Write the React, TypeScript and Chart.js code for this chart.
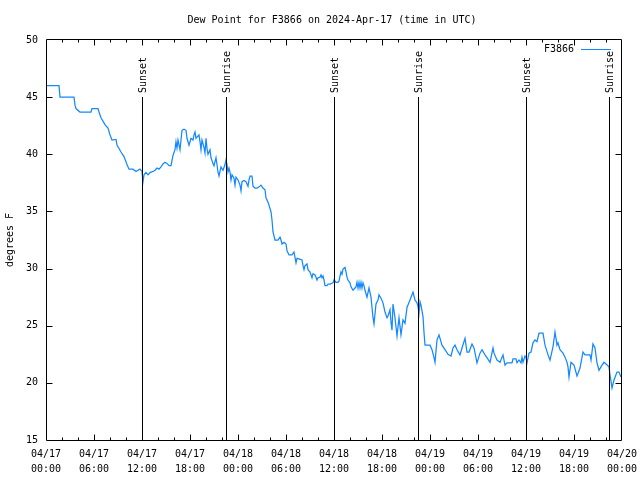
import { useEffect, useRef } from 'react';
import { Chart, registerables } from 'chart.js';

Chart.register(...registerables);

const FONT_FAMILY = '"DejaVu Sans Mono", monospace';
const LINE_COLOR = 'rgb(20,136,255)';

const chartTitle = 'Dew Point for F3866 on 2024-Apr-17 (time in UTC)';
const yAxisTitle = 'degrees F';
const seriesName = 'F3866';

// [hours since 2024-04-17 00:00 UTC, dew point °F]
const dewPointReadings: [number, number][] = [
  [0, 46.0], [1.625, 46.0], [1.75, 45.0], [3.5, 45.0], [3.625, 44.3], [3.75, 44.0], [4.25, 43.7],
  [5.625, 43.7], [5.75, 44.0], [6.5, 44.0], [6.625, 43.7], [6.875, 43.2], [7.375, 42.6], [7.75, 42.3],
  [8.0, 41.7], [8.25, 41.25], [8.75, 41.3], [8.875, 40.8], [9.375, 40.2], [9.75, 39.8], [10.125, 39.1],
  [10.375, 38.7], [10.875, 38.7], [11.25, 38.5], [11.5, 38.6], [11.75, 38.7], [12.0, 38.5], [12.125, 37.6],
  [12.25, 38.2], [12.5, 38.4], [12.75, 38.2], [13.0, 38.4], [13.375, 38.5], [13.625, 38.6], [13.875, 38.8],
  [14.125, 38.7], [14.375, 38.9], [14.625, 39.15], [14.875, 39.3], [15.125, 39.2], [15.375, 39.0],
  [15.625, 39.0], [15.875, 39.9], [16.125, 40.4], [16.25, 41.1], [16.375, 40.55], [16.5, 41.25],
  [16.75, 40.4], [16.875, 41.25], [17.0, 42.1], [17.25, 42.2], [17.5, 42.1], [17.625, 41.4], [17.875, 40.8],
  [18.0, 41.1], [18.125, 41.4], [18.375, 41.25], [18.5, 41.7], [18.625, 41.95], [18.75, 41.4], [18.875, 41.5],
  [19.125, 41.7], [19.25, 41.1], [19.375, 40.4], [19.5, 41.25], [19.75, 40.6], [19.875, 40.1], [20.0, 41.4],
  [20.125, 40.5], [20.25, 40.0], [20.5, 40.4], [20.625, 39.7], [20.875, 39.2], [21.0, 39.0], [21.25, 39.7],
  [21.5, 38.45], [21.625, 38.1], [21.875, 38.9], [22.125, 38.6], [22.375, 39.1], [22.5, 39.5], [22.625, 39.1],
  [22.75, 38.45], [22.875, 38.8], [23.0, 38.45], [23.125, 37.75], [23.25, 38.2], [23.5, 37.9], [23.625, 37.3],
  [23.75, 38.0], [24.0, 37.75], [24.25, 37.3], [24.375, 36.8], [24.5, 37.6], [24.75, 37.7], [25.0, 37.6],
  [25.25, 37.2], [25.375, 37.75], [25.5, 38.1], [25.75, 38.1], [25.875, 37.2], [26.125, 37.05], [26.375, 37.05],
  [26.625, 37.15], [26.875, 37.3], [27.125, 37.05], [27.375, 36.9], [27.5, 36.2], [27.75, 35.8], [27.875, 35.55],
  [28.125, 34.95], [28.25, 34.25], [28.375, 33.2], [28.625, 32.5], [29.0, 32.5], [29.25, 32.75], [29.375, 32.5],
  [29.5, 32.15], [29.75, 32.3], [30.0, 32.15], [30.125, 31.55], [30.375, 31.2], [30.75, 31.2], [31.0, 31.45],
  [31.25, 30.5], [31.375, 30.9], [31.625, 30.85], [32.0, 30.75], [32.125, 30.25], [32.25, 29.9], [32.375, 30.25],
  [32.625, 30.4], [32.75, 29.9], [33.0, 29.7], [33.25, 29.2], [33.375, 29.55], [33.625, 29.45], [33.875, 29.0],
  [34.0, 29.2], [34.25, 29.25], [34.375, 29.45], [34.5, 29.2], [34.625, 29.35], [34.75, 29.0], [34.875, 28.5],
  [35.125, 28.5], [35.25, 28.65], [35.5, 28.65], [35.875, 28.75], [36.0, 29.0], [36.25, 28.8], [36.5, 28.8],
  [36.625, 28.9], [36.75, 29.35], [36.875, 29.7], [37.0, 29.5], [37.125, 29.95], [37.375, 30.1], [37.5, 29.7],
  [37.625, 29.25], [37.75, 29.0], [38.0, 28.75], [38.125, 28.4], [38.375, 28.1], [38.625, 28.3], [38.75, 28.4],
  [38.875, 28.8], [39.0, 28.3], [39.125, 28.8], [39.25, 28.3], [39.375, 28.8], [39.5, 28.3], [39.625, 28.75],
  [39.75, 28.5], [39.875, 28.1], [40.125, 27.5], [40.375, 28.3], [40.625, 27.5], [40.875, 25.7], [41.0, 25.15],
  [41.25, 26.9], [41.5, 27.25], [41.625, 27.7], [41.875, 27.4], [42.125, 27.0], [42.375, 26.2], [42.625, 25.7],
  [42.75, 25.85], [43.0, 26.4], [43.125, 25.3], [43.25, 24.6], [43.375, 26.9], [43.625, 25.7], [43.875, 24.1],
  [44.125, 25.7], [44.375, 24.2], [44.625, 25.5], [44.875, 25.2], [45.0, 25.9], [45.125, 26.6], [45.5, 27.25],
  [45.875, 27.95], [46.125, 27.25], [46.375, 27.0], [46.5, 26.7], [46.625, 26.1], [46.75, 27.1], [46.875, 26.8],
  [47.125, 25.8], [47.25, 24.4], [47.375, 23.3], [48.0, 23.3], [48.25, 22.9], [48.5, 22.2], [48.625, 21.8],
  [48.875, 23.75], [49.125, 24.2], [49.5, 23.3], [49.875, 22.9], [50.25, 22.5], [50.625, 22.35], [50.875, 23.05],
  [51.125, 23.3], [51.375, 22.9], [51.75, 22.45], [52.0, 23.05], [52.375, 23.9], [52.625, 22.7], [52.875, 22.7],
  [53.25, 23.4], [53.5, 23.05], [53.875, 21.75], [54.25, 22.6], [54.5, 22.9], [54.875, 22.45], [55.125, 22.2],
  [55.5, 21.8], [55.875, 23.05], [56.0, 22.6], [56.375, 22.0], [56.75, 21.8], [57.125, 22.45], [57.375, 21.55],
  [57.625, 21.75], [58.25, 21.75], [58.375, 22.1], [58.75, 22.1], [58.875, 21.75], [59.125, 22.0], [59.375, 21.75],
  [59.5, 22.25], [59.625, 21.8], [59.875, 22.35], [60.0, 22.25], [60.125, 21.75], [60.375, 22.6], [60.625, 22.7],
  [60.875, 23.5], [61.125, 23.75], [61.375, 23.6], [61.625, 24.35], [62.125, 24.35], [62.375, 23.3], [62.75, 22.45],
  [63.0, 22.0], [63.375, 23.15], [63.625, 24.45], [63.75, 23.9], [63.875, 23.3], [64.0, 23.5], [64.25, 22.9],
  [64.625, 22.6], [64.875, 22.25], [65.125, 21.8], [65.25, 21.4], [65.375, 20.5], [65.625, 21.8], [66.0, 21.55],
  [66.375, 20.6], [66.75, 21.3], [67.125, 22.7], [67.375, 22.45], [68.0, 22.45], [68.125, 22.0], [68.375, 23.4],
  [68.625, 23.05], [68.875, 21.75], [69.125, 21.1], [69.5, 21.55], [69.75, 21.8], [70.0, 21.65], [70.375, 21.4],
  [70.5, 20.7], [70.75, 19.55], [71.0, 20.25], [71.375, 20.95], [71.625, 20.95], [71.875, 20.5],
];

const xTickHours = [0, 6, 12, 18, 24, 30, 36, 42, 48, 54, 60, 66, 72];
const xTickDates = ['04/17', '04/17', '04/17', '04/17', '04/18', '04/18', '04/18', '04/18', '04/19', '04/19', '04/19', '04/19', '04/20'];
const xTickTimes = ['00:00', '06:00', '12:00', '18:00', '00:00', '06:00', '12:00', '18:00', '00:00', '06:00', '12:00', '18:00', '00:00'];
const xMinorStepHours = 2;
const yTicks = [15, 20, 25, 30, 35, 40, 45, 50];

const sunEventNames = ['Sunset', 'Sunrise', 'Sunset', 'Sunrise', 'Sunset', 'Sunrise'];
const sunEventHours = [12.0, 22.5, 36.0, 46.5, 60.0, 70.375];
const sunEventTop = 45;

export default function App() {
  const canvasRef = useRef<HTMLCanvasElement>(null);

  useEffect(() => {
    const canvas = canvasRef.current;
    if (!canvas) return;
    const font = { family: FONT_FAMILY, size: 10 };

    const decor = {
      id: 'decor',
      afterDatasetsDraw(chart: any) {
        const { ctx, chartArea: a, scales } = chart;
        const x = scales.x;
        const y = scales.y;
        ctx.save();
        ctx.strokeStyle = '#000';
        ctx.fillStyle = '#000';
        ctx.lineWidth = 1;
        const L = Math.round(a.left) + 0.5;
        const R = Math.round(a.right) - 0.5;
        const T = Math.round(a.top) - 0.5;
        const B = Math.round(a.bottom) + 0.5;

        // sunrise / sunset markers
        ctx.font = `10px ${FONT_FAMILY}`;
        sunEventHours.forEach((h, i) => {
          const px = Math.round(x.getPixelForValue(h)) + 0.5;
          const yTop = Math.round(y.getPixelForValue(sunEventTop));
          ctx.beginPath();
          ctx.moveTo(px, B);
          ctx.lineTo(px, yTop);
          ctx.stroke();
          ctx.save();
          ctx.translate(px + 1, yTop - 4);
          ctx.rotate(-Math.PI / 2);
          ctx.textAlign = 'left';
          ctx.textBaseline = 'middle';
          ctx.fillText(sunEventNames[i], 0, 0);
          ctx.restore();
        });

        // border
        ctx.beginPath();
        ctx.rect(L, T, R - L, B - T);
        ctx.stroke();

        // x ticks (major + minor), bottom and top
        const xMin = xTickHours[0];
        const xMax = xTickHours[xTickHours.length - 1];
        ctx.beginPath();
        for (let h = xMin + xMinorStepHours; h < xMax; h += xMinorStepHours) {
          const px = Math.round(x.getPixelForValue(h)) + 0.5;
          const len = xTickHours.includes(h) ? 6 : 3;
          ctx.moveTo(px, B);
          ctx.lineTo(px, B - len);
          ctx.moveTo(px, T);
          ctx.lineTo(px, T + len);
        }
        // y ticks, left and right
        yTicks.slice(1, -1).forEach((v) => {
          const py = Math.round(y.getPixelForValue(v)) + 0.5;
          ctx.moveTo(L, py);
          ctx.lineTo(L + 6, py);
          ctx.moveTo(R, py);
          ctx.lineTo(R - 6, py);
        });
        ctx.stroke();

        // title
        ctx.textAlign = 'center';
        ctx.textBaseline = 'middle';
        ctx.fillText(chartTitle, 332, 20);

        // y axis title
        ctx.save();
        ctx.translate(10, 240);
        ctx.rotate(-Math.PI / 2);
        ctx.textAlign = 'center';
        ctx.textBaseline = 'middle';
        ctx.fillText(yAxisTitle, 0, 0);
        ctx.restore();

        // legend
        ctx.textAlign = 'right';
        ctx.textBaseline = 'middle';
        ctx.fillText(seriesName, 574, 49);
        ctx.strokeStyle = LINE_COLOR;
        ctx.beginPath();
        ctx.moveTo(581, 49.5);
        ctx.lineTo(611, 49.5);
        ctx.stroke();
        ctx.restore();
      },
    };

    const chart = new Chart(canvas, {
      type: 'line',
      data: {
        datasets: [
          {
            label: seriesName,
            data: dewPointReadings.map(([h, v]) => ({ x: h, y: v })),
            borderColor: LINE_COLOR,
            borderWidth: 1.25,
            pointRadius: 0,
            tension: 0,
            fill: false,
          },
        ],
      },
      options: {
        animation: false,
        responsive: false,
        devicePixelRatio: 1,
        events: [],
        layout: { padding: { top: 40, right: 18, left: 0, bottom: 0 } },
        plugins: {
          legend: { display: false },
          title: { display: false },
          tooltip: { enabled: false },
        },
        scales: {
          x: {
            type: 'linear',
            min: xTickHours[0],
            max: xTickHours[xTickHours.length - 1],
            afterBuildTicks: (scale: any) => {
              scale.ticks = xTickHours.map((v) => ({ value: v }));
            },
            afterFit: (scale: any) => {
              scale.height = 40;
              scale.paddingLeft = 0;
              scale.paddingRight = 0;
            },
            grid: { display: false, drawTicks: false },
            border: { display: false },
            ticks: {
              autoSkip: false,
              maxRotation: 0,
              minRotation: 0,
              padding: 7,
              color: '#000',
              font: { ...font, lineHeight: 1.5 },
              callback: (value: any) => {
                const i = xTickHours.indexOf(Number(value));
                return i >= 0 ? [xTickDates[i], xTickTimes[i]] : '';
              },
            },
          },
          y: {
            type: 'linear',
            min: yTicks[0],
            max: yTicks[yTicks.length - 1],
            afterBuildTicks: (scale: any) => {
              scale.ticks = yTicks.map((v) => ({ value: v }));
            },
            afterFit: (scale: any) => {
              scale.width = 46;
              scale.paddingTop = 0;
              scale.paddingBottom = 0;
            },
            grid: { display: false, drawTicks: false },
            border: { display: false },
            ticks: {
              padding: 8,
              color: '#000',
              font,
              callback: (value: any) => String(value),
            },
          },
        },
      },
      plugins: [decor],
    });

    return () => chart.destroy();
  }, []);

  return (
    <div style={{ position: 'absolute', left: 0, top: 0, width: 640, height: 480, background: '#fff' }}>
      <canvas ref={canvasRef} width={640} height={480} />
    </div>
  );
}
